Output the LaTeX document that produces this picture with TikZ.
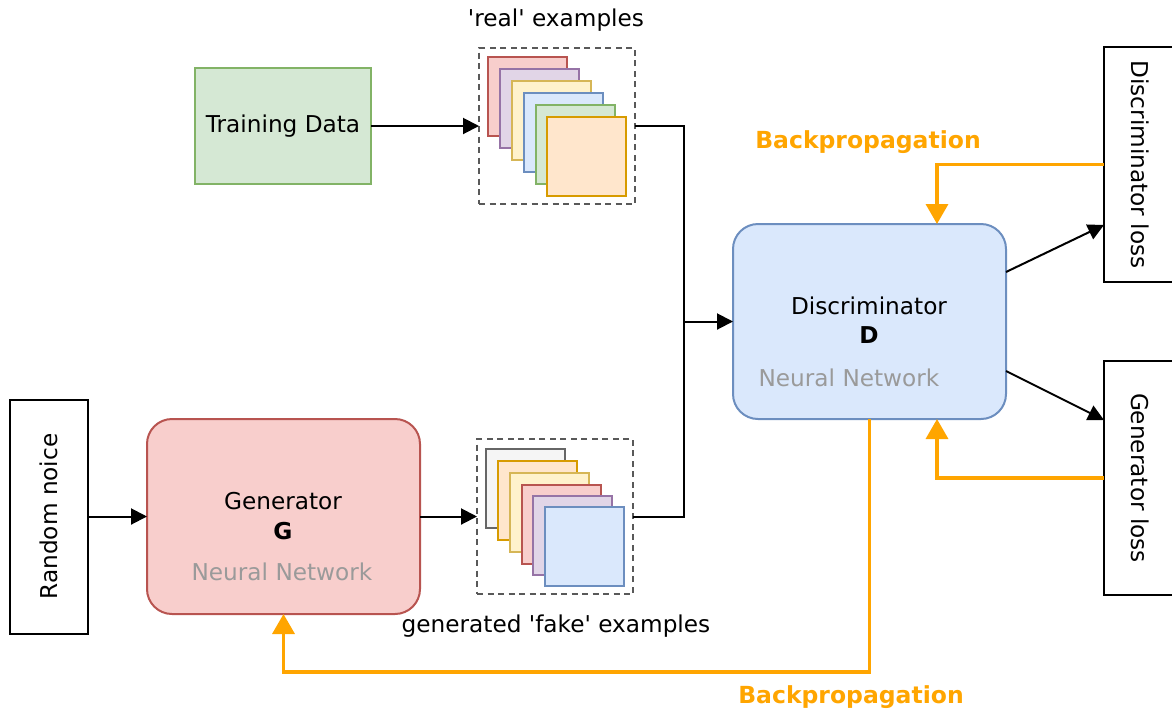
\documentclass[tikz,border=0pt]{standalone}
\usepackage{fontspec}
\setmainfont{DejaVu Sans}
\usetikzlibrary{arrows.meta}
\definecolor{gfill}{HTML}{D5E8D4}\definecolor{gdraw}{HTML}{82B366}
\definecolor{rfill}{HTML}{F8CECC}\definecolor{rdraw}{HTML}{B85450}
\definecolor{pfill}{HTML}{E1D5E7}\definecolor{pdraw}{HTML}{9673A6}
\definecolor{yfill}{HTML}{FFF2CC}\definecolor{ydraw}{HTML}{D6B656}
\definecolor{bfill}{HTML}{DAE8FC}\definecolor{bdraw}{HTML}{6C8EBF}
\definecolor{ofill}{HTML}{FFE6CC}\definecolor{odraw}{HTML}{D79B00}
\definecolor{kfill}{HTML}{F5F5F5}\definecolor{kdraw}{HTML}{666666}
\definecolor{bp}{HTML}{FFA500}
\definecolor{nn}{HTML}{9A9A9A}
\begin{document}
\begin{tikzpicture}[x=1pt,y=-1pt,
  every node/.style={font=\fontsize{23.2}{28}\selectfont},
  box/.style={draw, line width=2pt, inner sep=0pt, outer sep=0pt},
  card/.style={box, minimum width=79pt, minimum height=79pt},
  dbox/.style={draw=black!65, dash pattern=on 6pt off 4.5pt, line width=1.6pt, inner sep=0pt, outer sep=0pt},
  txt/.style={inner sep=0pt},
  conn/.style={line width=2pt, -{Triangle[length=16pt,width=16pt]}},
  plain/.style={line width=2pt},
  bpline/.style={draw=bp, line width=3.5pt, -{Triangle[length=20pt,width=22pt]}},
  bplab/.style={text=bp, font=\fontsize{23.5}{28}\selectfont\bfseries, inner sep=0pt},
  nnlab/.style={text=nn, inner sep=0pt}
]
\useasboundingbox (0,0) rectangle (1172,710);
% Training data
\node[box, fill=gfill, draw=gdraw, minimum width=176pt, minimum height=116pt] (train) at (283,126) {Training Data};
% real examples
\node[dbox, minimum width=156pt, minimum height=156pt] (realbox) at (557,126) {};
\node[card, fill=rfill, draw=rdraw] (r1) at (527.5,96.5) {};
\node[card, fill=pfill, draw=pdraw] (r2) at (539.5,108.5) {};
\node[card, fill=yfill, draw=ydraw] (r3) at (551.5,120.5) {};
\node[card, fill=bfill, draw=bdraw] (r4) at (563,132.5) {};
\node[card, fill=gfill, draw=gdraw] (r5) at (575,144.5) {};
\node[card, fill=ofill, draw=odraw] (r6) at (586.5,156) {};
\node[txt] (reallab) at (556,20) {\textquotesingle real\textquotesingle{} examples};
% fake examples
\node[dbox, minimum width=156pt, minimum height=155pt] (fakebox) at (555,516.5) {};
\node[card, fill=kfill, draw=kdraw] (f1) at (525.5,488.5) {};
\node[card, fill=ofill, draw=odraw] (f2) at (537.5,500.5) {};
\node[card, fill=yfill, draw=ydraw] (f3) at (549,512) {};
\node[card, fill=rfill, draw=rdraw] (f4) at (561,524) {};
\node[card, fill=pfill, draw=pdraw] (f5) at (572.5,535.5) {};
\node[card, fill=bfill, draw=bdraw] (f6) at (584.5,546.5) {};
\node[txt] (fakelab) at (556,626) {generated \textquotesingle fake\textquotesingle{} examples};
% Discriminator
\node[box, fill=bfill, draw=bdraw, rounded corners=25pt, minimum width=273pt, minimum height=195pt] (D) at (869.5,321.5) {};
\node[txt] (Dname) at (869,306) {Discriminator};
\node[txt, font=\fontsize{23.2}{28}\selectfont\bfseries] (Dlet) at (869,335) {D};
\node[nnlab] (Dnn) at (849,378) {Neural Network};
% Generator
\node[box, fill=rfill, draw=rdraw, rounded corners=25pt, minimum width=273pt, minimum height=195pt] (G) at (283.5,516.5) {};
\node[txt] (Gname) at (283,501) {Generator};
\node[txt, font=\fontsize{23.2}{28}\selectfont\bfseries] (Glet) at (283,531) {G};
\node[nnlab] (Gnn) at (282,572) {Neural Network};
% Random noise
\node[box, minimum width=78pt, minimum height=234pt] (noise) at (49,516.5) {};
\node[txt, rotate=90] (noiselab) at (49,516.5) {Random noice};
% losses
\node[box, minimum width=76pt, minimum height=235pt] (dloss) at (1142,164.5) {};
\node[txt, rotate=-90] (dlosslab) at (1140,164.5) {Discriminator loss};
\node[box, minimum width=76pt, minimum height=234pt] (gloss) at (1142,478) {};
\node[txt, rotate=-90] (glosslab) at (1140,478) {Generator loss};
% connectors
\draw[conn] (train.east) -- (realbox.west);
\draw[conn] (noise.east) -- (G.west);
\draw[conn] (G.east) -- (fakebox.west);
\coordinate (join) at (684,321.5);
\draw[plain] (realbox.east) -| (join);
\draw[plain] (fakebox.east) -| (join);
\draw[conn] (join) -- (D.west);
\draw[conn] ([yshift=49.5pt]D.east) -- ([yshift=-60.5pt]dloss.west);
\draw[conn] ([yshift=-49.5pt]D.east) -- ([yshift=58pt]gloss.west);
% backprop
\draw[bpline] (dloss.west) -| ([xshift=67.5pt]D.north);
\draw[bpline] (gloss.west) -| ([xshift=67.5pt]D.south);
\coordinate (bpc) at (869.5,672);
\draw[bpline] (D.south) -- (bpc) -| (G.south);
\node[bplab] (bp1) at (868,142) {Backpropagation};
\node[bplab] (bp2) at (851,697) {Backpropagation};
\end{tikzpicture}
\end{document}
